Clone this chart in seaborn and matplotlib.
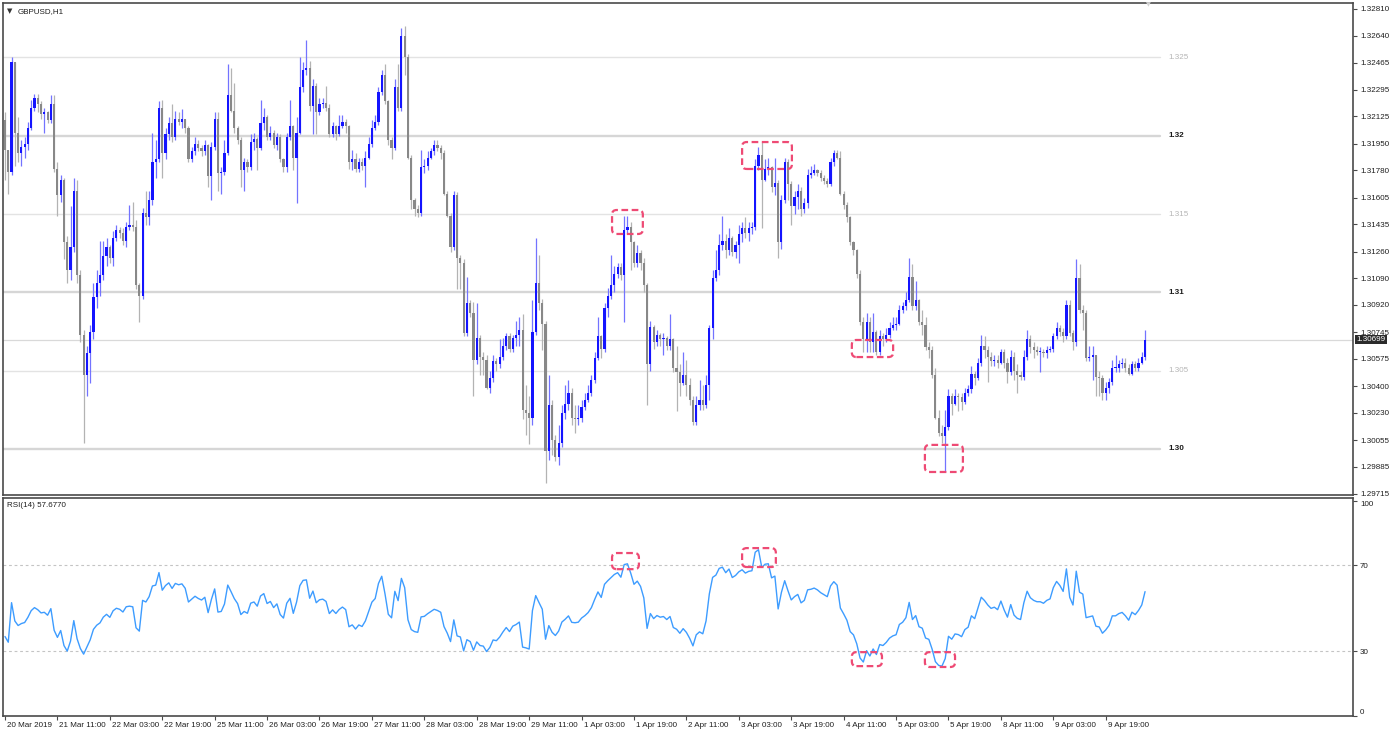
import numpy as np
import matplotlib
matplotlib.use("Agg")
import matplotlib.pyplot as plt
import matplotlib.transforms as mtransforms
from matplotlib.patches import FancyBboxPatch
import seaborn as sns

# ---------------- data (GBPUSD, H1) ----------------
FIRST_OPEN = 1.3210

close = [
    1.3191, 1.3177, 1.3247, 1.3202, 1.3189, 1.3193, 1.3195, 1.3205, 1.3218, 1.3224,
    1.3220, 1.3214, 1.3215, 1.3210, 1.3220, 1.3179, 1.3162, 1.3172, 1.3132, 1.3114,
    1.3129, 1.3165, 1.3111, 1.3073, 1.3047, 1.3061, 1.3075, 1.3097, 1.3106, 1.3111,
    1.3123, 1.3129, 1.3122, 1.3135, 1.3140, 1.3138, 1.3133, 1.3142, 1.3143, 1.3142,
    1.3105, 1.3098, 1.3151, 1.3148, 1.3159, 1.3183, 1.3185, 1.3218, 1.3189, 1.3201,
    1.3208, 1.3199, 1.3211, 1.3209, 1.3211, 1.3205, 1.3185, 1.3190, 1.3195, 1.3192,
    1.3190, 1.3194, 1.3174, 1.3193, 1.3211, 1.3176, 1.3177, 1.3189, 1.3226, 1.3216,
    1.3205, 1.3197, 1.3178, 1.3183, 1.3180, 1.3196, 1.3198, 1.3192, 1.3208, 1.3212,
    1.3199, 1.3202, 1.3194, 1.3199, 1.3185, 1.3180, 1.3199, 1.3206, 1.3186, 1.3202,
    1.3231, 1.3242, 1.3243, 1.3219, 1.3232, 1.3215, 1.3220, 1.3221, 1.3218, 1.3201,
    1.3206, 1.3201, 1.3206, 1.3209, 1.3206, 1.3183, 1.3185, 1.3179, 1.3183, 1.3181,
    1.3186, 1.3195, 1.3205, 1.3209, 1.3228, 1.3239, 1.3222, 1.3197, 1.3192, 1.3231,
    1.3218, 1.3264, 1.3250, 1.3186, 1.3159, 1.3153, 1.3151, 1.3180, 1.3181, 1.3186,
    1.3190, 1.3194, 1.3192, 1.3189, 1.3163, 1.3149, 1.3129, 1.3162, 1.3122, 1.3119,
    1.3074, 1.3093, 1.3087, 1.3057, 1.3071, 1.3059, 1.3057, 1.3039, 1.3045, 1.3056,
    1.3054, 1.3059, 1.3066, 1.3072, 1.3064, 1.3071, 1.3073, 1.3076, 1.3025, 1.3023,
    1.3020, 1.3075, 1.3106, 1.3093, 1.3080, 1.2999, 1.3028, 1.3006, 1.2995, 1.3004,
    1.3023, 1.3029, 1.3036, 1.3020, 1.3019, 1.3020, 1.3027, 1.3031, 1.3036, 1.3044,
    1.3058, 1.3072, 1.3064, 1.3090, 1.3098, 1.3105, 1.3112, 1.3116, 1.3111, 1.3140,
    1.3142, 1.3132, 1.3119, 1.3125, 1.3119, 1.3105, 1.3054, 1.3078, 1.3068, 1.3073,
    1.3070, 1.3071, 1.3066, 1.3070, 1.3052, 1.3049, 1.3042, 1.3047, 1.3041, 1.3031,
    1.3017, 1.3028, 1.3031, 1.3028, 1.3041, 1.3077, 1.3109, 1.3114, 1.3130, 1.3133,
    1.3127, 1.3135, 1.3126, 1.3130, 1.3137, 1.3141, 1.3138, 1.3141, 1.3142, 1.3181,
    1.3188, 1.3172, 1.3179, 1.3180, 1.3167, 1.3170, 1.3132, 1.3159, 1.3183, 1.3169,
    1.3155, 1.3161, 1.3165, 1.3153, 1.3157, 1.3175, 1.3176, 1.3178, 1.3176, 1.3173,
    1.3171, 1.3169, 1.3183, 1.3189, 1.3186, 1.3163, 1.3156, 1.3148, 1.3132, 1.3127,
    1.3112, 1.3081, 1.3070, 1.3081, 1.3068, 1.3075, 1.3062, 1.3072, 1.3070, 1.3073,
    1.3077, 1.3079, 1.3080, 1.3089, 1.3091, 1.3095, 1.3110, 1.3091, 1.3095, 1.3081,
    1.3079, 1.3065, 1.3063, 1.3047, 1.3020, 1.3010, 1.3008, 1.3014, 1.3034, 1.3029,
    1.3034, 1.3033, 1.3030, 1.3036, 1.3038, 1.3048, 1.3045, 1.3055, 1.3066, 1.3063,
    1.3059, 1.3056, 1.3057, 1.3055, 1.3062, 1.3055, 1.3049, 1.3059, 1.3050, 1.3047,
    1.3046, 1.3059, 1.3070, 1.3065, 1.3063, 1.3062, 1.3062, 1.3061, 1.3063, 1.3064,
    1.3072, 1.3077, 1.3075, 1.3072, 1.3092, 1.3074, 1.3068, 1.3109, 1.3089, 1.3087,
    1.3058, 1.3059, 1.3060, 1.3046, 1.3045, 1.3036, 1.3039, 1.3043, 1.3052, 1.3052,
    1.3054, 1.3055, 1.3052, 1.3048, 1.3054, 1.3052, 1.3055, 1.3059, 1.30699,
]

high = [
    1.3215, 1.3191, 1.3250, 1.3247, 1.3212, 1.3197, 1.3199, 1.3209, 1.3223, 1.3227,
    1.3227, 1.3222, 1.3218, 1.3216, 1.3226, 1.3226, 1.3183, 1.3175, 1.3173, 1.3136,
    1.3155, 1.3173, 1.3172, 1.3114, 1.3076, 1.3066, 1.3079, 1.3106, 1.3114, 1.3133,
    1.3133, 1.3135, 1.3130, 1.3139, 1.3143, 1.3142, 1.3141, 1.3145, 1.3156, 1.3158,
    1.3146, 1.3106, 1.3154, 1.3165, 1.3165, 1.3202, 1.3197, 1.3222, 1.3223, 1.3205,
    1.3212, 1.3220, 1.3216, 1.3215, 1.3217, 1.3211, 1.3206, 1.3193, 1.3199, 1.3197,
    1.3194, 1.3197, 1.3195, 1.3196, 1.3215, 1.3215, 1.3180, 1.3197, 1.3246, 1.3243,
    1.3234, 1.3206, 1.3199, 1.3186, 1.3185, 1.3201, 1.3202, 1.3199, 1.3223, 1.3218,
    1.3213, 1.3206, 1.3204, 1.3202, 1.3201, 1.3186, 1.3202, 1.3223, 1.3207, 1.3212,
    1.3250, 1.3247, 1.3261, 1.3248, 1.3236, 1.3234, 1.3224, 1.3224, 1.3232, 1.3220,
    1.3209, 1.3207, 1.3213, 1.3213, 1.3211, 1.3207, 1.3191, 1.3189, 1.3186, 1.3186,
    1.3190, 1.3199, 1.3210, 1.3213, 1.3231, 1.3242, 1.3246, 1.3223, 1.3199, 1.3236,
    1.3246, 1.3269, 1.3270, 1.3252, 1.3188, 1.3160, 1.3156, 1.3191, 1.3185, 1.3190,
    1.3192, 1.3197, 1.3197, 1.3194, 1.3191, 1.3165, 1.3151, 1.3165, 1.3164, 1.3124,
    1.3121, 1.3110, 1.3095, 1.3094, 1.3093, 1.3073, 1.3062, 1.3060, 1.3050, 1.3060,
    1.3058, 1.3070, 1.3071, 1.3074, 1.3074, 1.3073, 1.3082, 1.3084, 1.3086, 1.3041,
    1.3034, 1.3095, 1.3135, 1.3124, 1.3096, 1.3082, 1.3047, 1.3031, 1.3009, 1.3015,
    1.3028, 1.3041, 1.3044, 1.3039, 1.3028, 1.3028, 1.3031, 1.3036, 1.3041, 1.3047,
    1.3062, 1.3084, 1.3073, 1.3093, 1.3103, 1.3124, 1.3117, 1.3119, 1.3119, 1.3149,
    1.3149, 1.3145, 1.3133, 1.3130, 1.3127, 1.3122, 1.3106, 1.3082, 1.3079, 1.3076,
    1.3074, 1.3074, 1.3072, 1.3086, 1.3071, 1.3066, 1.3054, 1.3062, 1.3057, 1.3045,
    1.3034, 1.3034, 1.3044, 1.3041, 1.3047, 1.3079, 1.3114, 1.3127, 1.3137, 1.3149,
    1.3137, 1.3141, 1.3136, 1.3133, 1.3143, 1.3145, 1.3148, 1.3145, 1.3145, 1.3185,
    1.3193, 1.3196, 1.3185, 1.3186, 1.3181, 1.3186, 1.3172, 1.3162, 1.3186, 1.3185,
    1.3171, 1.3165, 1.3169, 1.3167, 1.3160, 1.3179, 1.3181, 1.3182, 1.3179, 1.3178,
    1.3175, 1.3173, 1.3186, 1.3191, 1.3191, 1.3190, 1.3165, 1.3158, 1.3149, 1.3133,
    1.3128, 1.3114, 1.3084, 1.3087, 1.3084, 1.3087, 1.3076, 1.3076, 1.3074, 1.3077,
    1.3081, 1.3084, 1.3084, 1.3092, 1.3094, 1.3100, 1.3122, 1.3118, 1.3107, 1.3096,
    1.3089, 1.3084, 1.3068, 1.3066, 1.3052, 1.3025, 1.3015, 1.3025, 1.3038, 1.3036,
    1.3038, 1.3036, 1.3036, 1.3039, 1.3041, 1.3053, 1.3050, 1.3058, 1.3073, 1.3072,
    1.3066, 1.3062, 1.3060, 1.3060, 1.3064, 1.3064, 1.3058, 1.3063, 1.3062, 1.3054,
    1.3050, 1.3063, 1.3076, 1.3073, 1.3068, 1.3066, 1.3065, 1.3064, 1.3066, 1.3066,
    1.3074, 1.3081, 1.3079, 1.3077, 1.3095, 1.3095, 1.3076, 1.3121, 1.3118, 1.3092,
    1.3089, 1.3066, 1.3066, 1.3060, 1.3050, 1.3047, 1.3043, 1.3045, 1.3057, 1.3060,
    1.3057, 1.3058, 1.3058, 1.3054, 1.3056, 1.3056, 1.3058, 1.3062, 1.3076,
]

low = [
    1.3172, 1.3163, 1.3175, 1.3181, 1.3183, 1.3181, 1.3186, 1.3191, 1.3204, 1.3216,
    1.3215, 1.3211, 1.3202, 1.3208, 1.3208, 1.3177, 1.3149, 1.3158, 1.3121, 1.3106,
    1.3108, 1.3126, 1.3106, 1.3068, 1.3004, 1.3034, 1.3042, 1.3070, 1.3090, 1.3098,
    1.3108, 1.3117, 1.3119, 1.3117, 1.3133, 1.3135, 1.3130, 1.3129, 1.3140, 1.3139,
    1.3102, 1.3081, 1.3096, 1.3143, 1.3143, 1.3156, 1.3173, 1.3183, 1.3173, 1.3185,
    1.3197, 1.3196, 1.3197, 1.3207, 1.3205, 1.3202, 1.3183, 1.3183, 1.3188, 1.3190,
    1.3187, 1.3188, 1.3167, 1.3159, 1.3191, 1.3165, 1.3163, 1.3175, 1.3188, 1.3215,
    1.3202, 1.3195, 1.3167, 1.3165, 1.3177, 1.3178, 1.3191, 1.3178, 1.3191, 1.3204,
    1.3197, 1.3197, 1.3192, 1.3191, 1.3183, 1.3177, 1.3177, 1.3197, 1.3178, 1.3157,
    1.3201, 1.3228, 1.3239, 1.3216, 1.3201, 1.3201, 1.3213, 1.3218, 1.3216, 1.3199,
    1.3199, 1.3197, 1.3200, 1.3205, 1.3202, 1.3179, 1.3178, 1.3177, 1.3177, 1.3178,
    1.3167, 1.3185, 1.3193, 1.3204, 1.3207, 1.3226, 1.3220, 1.3194, 1.3185, 1.3191,
    1.3216, 1.3216, 1.3239, 1.3185, 1.3153, 1.3149, 1.3148, 1.3149, 1.3176, 1.3178,
    1.3185, 1.3188, 1.3190, 1.3185, 1.3162, 1.3148, 1.3126, 1.3127, 1.3102, 1.3102,
    1.3072, 1.3072, 1.3084, 1.3034, 1.3054, 1.3047, 1.3047, 1.3038, 1.3036, 1.3043,
    1.3050, 1.3052, 1.3057, 1.3063, 1.3062, 1.3062, 1.3066, 1.3066, 1.3019, 1.3009,
    1.3003, 1.3015, 1.3073, 1.3089, 1.3063, 1.2978, 1.2993, 1.2996, 1.2992, 1.2990,
    1.3001, 1.3019, 1.3025, 1.3015, 1.3010, 1.3015, 1.3017, 1.3025, 1.3030, 1.3034,
    1.3042, 1.3057, 1.3058, 1.3062, 1.3084, 1.3096, 1.3100, 1.3109, 1.3108, 1.3081,
    1.3137, 1.3114, 1.3116, 1.3116, 1.3114, 1.3100, 1.3028, 1.3050, 1.3064, 1.3066,
    1.3066, 1.3060, 1.3063, 1.3063, 1.3049, 1.3024, 1.3034, 1.3041, 1.3034, 1.3028,
    1.3015, 1.3015, 1.3025, 1.3025, 1.3026, 1.3031, 1.3070, 1.3107, 1.3111, 1.3127,
    1.3122, 1.3124, 1.3123, 1.3122, 1.3119, 1.3132, 1.3135, 1.3133, 1.3137, 1.3140,
    1.3178, 1.3141, 1.3171, 1.3175, 1.3164, 1.3162, 1.3122, 1.3128, 1.3157, 1.3159,
    1.3143, 1.3150, 1.3153, 1.3149, 1.3151, 1.3154, 1.3173, 1.3175, 1.3174, 1.3171,
    1.3169, 1.3167, 1.3168, 1.3181, 1.3185, 1.3162, 1.3153, 1.3145, 1.3130, 1.3124,
    1.3109, 1.3079, 1.3062, 1.3062, 1.3062, 1.3062, 1.3060, 1.3060, 1.3066, 1.3068,
    1.3071, 1.3076, 1.3076, 1.3079, 1.3087, 1.3089, 1.3094, 1.3089, 1.3089, 1.3079,
    1.3073, 1.3063, 1.3058, 1.3045, 1.3019, 1.3008, 1.3004, 1.2985, 1.3012, 1.3022,
    1.3028, 1.3024, 1.3025, 1.3029, 1.3034, 1.3036, 1.3041, 1.3044, 1.3053, 1.3058,
    1.3043, 1.3053, 1.3053, 1.3052, 1.3054, 1.3052, 1.3042, 1.3047, 1.3044, 1.3036,
    1.3044, 1.3044, 1.3057, 1.3061, 1.3058, 1.3060, 1.3049, 1.3059, 1.3058, 1.3062,
    1.3062, 1.3070, 1.3072, 1.3068, 1.3070, 1.3072, 1.3063, 1.3066, 1.3087, 1.3076,
    1.3056, 1.3056, 1.3044, 1.3034, 1.3034, 1.3031, 1.3031, 1.3036, 1.3041, 1.3049,
    1.3049, 1.3052, 1.3049, 1.3047, 1.3047, 1.3050, 1.3050, 1.3054, 1.3057,
]

time_labels = [
    "20 Mar 2019", "21 Mar 11:00", "22 Mar 03:00", "22 Mar 19:00", "25 Mar 11:00",
    "26 Mar 03:00", "26 Mar 19:00", "27 Mar 11:00", "28 Mar 03:00", "28 Mar 19:00",
    "29 Mar 11:00", "1 Apr 03:00", "1 Apr 19:00", "2 Apr 11:00", "3 Apr 03:00",
    "3 Apr 19:00", "4 Apr 11:00", "5 Apr 03:00", "5 Apr 19:00", "8 Apr 11:00",
    "9 Apr 03:00", "9 Apr 19:00",
]
BARS_PER_LABEL = 16

price_ticks = [1.32810, 1.32640, 1.32465, 1.32295, 1.32125, 1.31950, 1.31780,
               1.31605, 1.31435, 1.31260, 1.31090, 1.30920, 1.30745, 1.30575,
               1.30400, 1.30230, 1.30055, 1.29885, 1.29715]
levels_major = [1.32, 1.31, 1.30]
levels_minor = [1.325, 1.315, 1.305]
last_price = 1.30699

rsi_ticks = [0, 30, 70, 100]
rsi_levels = [30, 70]
RSI_PERIOD = 14
# average gain / loss before the first visible bar (first RSI value reads ~36 on the chart)
RSI_SEED_GAIN = 0.00055
RSI_SEED_LOSS = 0.00080

# highlighted zones: (first bar, last bar, lower value, upper value)
price_boxes = [(185.3, 194.7, 1.31373, 1.31526), (225.0, 240.2, 1.31788, 1.31960),
               (258.5, 271.1, 1.30587, 1.30696), (280.8, 292.4, 1.29853, 1.30026)]
rsi_boxes = [(185.3, 193.5, 68.1, 75.6), (225.0, 235.3, 69.1, 77.9),
             (258.5, 267.7, 23.0, 29.5), (280.8, 290.0, 22.6, 29.5)]

# ---------------- styling ----------------
sns.set_theme(style="white")
plt.rcParams["font.family"] = ["Liberation Sans", "DejaVu Sans"]
FS = 5.8
TXT = "#1e1e1e"
SPINE = "#4a4a4a"
BULL_BODY, BEAR_BODY = "#1414ff", "#888888"
BULL_WICK, BEAR_WICK = "#7373ff", "#b3b3b3"
BOX_COLOR = "#ee4a74"

W, H = 1392, 735
fig = plt.figure(figsize=(W / 100, H / 100), dpi=100)
fig.patch.set_facecolor("white")

PX_PER_BAR = 3.276
X0_PX = 5.0
left_px, right_px = 3, 1353
xlim = ((left_px - X0_PX) / PX_PER_BAR, (right_px - X0_PX) / PX_PER_BAR)

ax1 = fig.add_axes([left_px / W, 1 - 495 / H, (right_px - left_px) / W, 492 / H])
ax2 = fig.add_axes([left_px / W, 1 - 716 / H, (right_px - left_px) / W, 218 / H])

c = np.array(close)
hi = np.array(high)
lo = np.array(low)
o = np.r_[FIRST_OPEN, c[:-1]]
n = len(c)
x = np.arange(n)
up = c >= o

# ---------------- price panel ----------------
ax1.set_xlim(*xlim)
ymin, ymax = 1.29706, 1.32848
ax1.set_ylim(ymin, ymax)

line_end = (1160 - X0_PX) / PX_PER_BAR
lab_x = (1168 - X0_PX) / PX_PER_BAR
for lv in levels_minor:
    ax1.plot([xlim[0], line_end], [lv, lv], color="#e3e3e3", lw=1.0, zorder=1)
    ax1.text(lab_x, lv, f"{lv:g}", fontsize=FS, color="#b5b5b5", va="center", ha="left")
for lv in levels_major:
    ax1.plot([xlim[0], line_end], [lv, lv], color="#d6d6d6", lw=1.7, zorder=1)
    ax1.text(lab_x, lv, f"{lv:.2f}", fontsize=FS, color="#1a1a1a", va="center", ha="left",
             fontweight="bold")
ax1.axhline(last_price, color="#d9d9d9", lw=0.9, zorder=1)

ax1.vlines(x, lo, hi, colors=np.where(up, BULL_WICK, BEAR_WICK), lw=0.9, zorder=2)
body_lo = np.minimum(o, c)
body_h = np.maximum(np.abs(c - o), 0.00003)
ax1.bar(x, body_h, bottom=body_lo, width=0.66,
        color=np.where(up, BULL_BODY, BEAR_BODY), lw=0, zorder=3)

px_per_price = 492 / (ymax - ymin)
for b0, b1, v0, v1 in price_boxes:
    ax1.add_patch(FancyBboxPatch((b0, v0), b1 - b0, v1 - v0,
                                 boxstyle="round,pad=0,rounding_size=1.4",
                                 mutation_aspect=PX_PER_BAR / px_per_price,
                                 fill=False, ec=BOX_COLOR, lw=1.6,
                                 ls=(0, (3, 1.6)), zorder=5))

ax1.yaxis.tick_right()
ax1.set_yticks(price_ticks)
ax1.set_yticklabels([f"{t:.5f}" for t in price_ticks])
ax1.tick_params(axis="y", which="both", right=True, direction="out", length=3,
                width=0.8, color=SPINE, pad=2, labelsize=FS, labelcolor=TXT)
ax1.tick_params(axis="x", bottom=False, labelbottom=False)
ax1.grid(False)
for s in ax1.spines.values():
    s.set_color(SPINE)
    s.set_linewidth(1.2)

ax1.text(1.0028, last_price, f"{last_price:.5f}", transform=ax1.get_yaxis_transform(),
         fontsize=FS, color="white", va="center", ha="left", clip_on=False, zorder=10,
         bbox=dict(boxstyle="square,pad=0.18", fc="#2b2b2b", ec="none"))

ax1.text(0.0033, 0.983, "\u25BC", transform=ax1.transAxes, fontsize=5.0, color="#333333",
         va="center", ha="left", family=["DejaVu Sans"])
ax1.text(0.0105, 0.983, "GBPUSD,H1", transform=ax1.transAxes, fontsize=FS, color=TXT,
         va="center", ha="left")
ax1.text((1148 - X0_PX) / PX_PER_BAR, 0.997, "\u25BC", transform=ax1.get_xaxis_transform(),
         fontsize=4.5, color="#d2d2d2", va="center", ha="center", family=["DejaVu Sans"])

# ---------------- RSI(14) panel (Wilder smoothing of the closes above) ----------------
ag, al = RSI_SEED_GAIN, RSI_SEED_LOSS
rsi = []
for d in c - o:
    ag = (ag * (RSI_PERIOD - 1) + max(d, 0.0)) / RSI_PERIOD
    al = (al * (RSI_PERIOD - 1) + max(-d, 0.0)) / RSI_PERIOD
    rsi.append(100.0 * ag / (ag + al))

ax2.set_xlim(*xlim)
ax2.set_ylim(-0.2, 101.2)
for lv in rsi_levels:
    ax2.axhline(lv, color="#c4c4c4", lw=0.8, ls=(0, (2.5, 2.5)), zorder=1)
sns.lineplot(x=x, y=rsi, ax=ax2, color="#3d9cff", lw=1.0, zorder=3)

px_per_rsi = 218 / 101.4
for b0, b1, v0, v1 in rsi_boxes:
    ax2.add_patch(FancyBboxPatch((b0, v0), b1 - b0, v1 - v0,
                                 boxstyle="round,pad=0,rounding_size=1.4",
                                 mutation_aspect=PX_PER_BAR / px_per_rsi,
                                 fill=False, ec=BOX_COLOR, lw=1.6,
                                 ls=(0, (3, 1.6)), zorder=5))

ax2.yaxis.tick_right()
ax2.set_yticks(rsi_ticks)
ax2.set_yticklabels([str(t) for t in rsi_ticks])
ax2.tick_params(axis="y", right=True, direction="out", length=3, width=0.8,
                color=SPINE, pad=2, labelsize=FS, labelcolor=TXT)
labs = ax2.get_yticklabels()
labs[0].set_va("bottom")
labs[-1].set_va("top")

tick_pos = [k * BARS_PER_LABEL for k in range(len(time_labels))]
ax2.set_xticks(tick_pos)
ax2.set_xticklabels(time_labels, ha="left")
ax2.tick_params(axis="x", bottom=True, direction="out", length=3, width=0.8,
                color=SPINE, pad=1.5, labelsize=FS, labelcolor=TXT)
shift = mtransforms.ScaledTranslation(2 / 100, 0, fig.dpi_scale_trans)
for lab in ax2.get_xticklabels():
    lab.set_transform(lab.get_transform() + shift)
ax2.grid(False)
for s in ax2.spines.values():
    s.set_color(SPINE)
    s.set_linewidth(1.2)
ax2.set_xlabel("")
ax2.set_ylabel("")

ax2.text(0.003, 0.965, "RSI(14) 57.6770", transform=ax2.transAxes, fontsize=FS,
         color=TXT, va="center", ha="left")

fig.savefig("out.png", dpi=100, facecolor="white")
